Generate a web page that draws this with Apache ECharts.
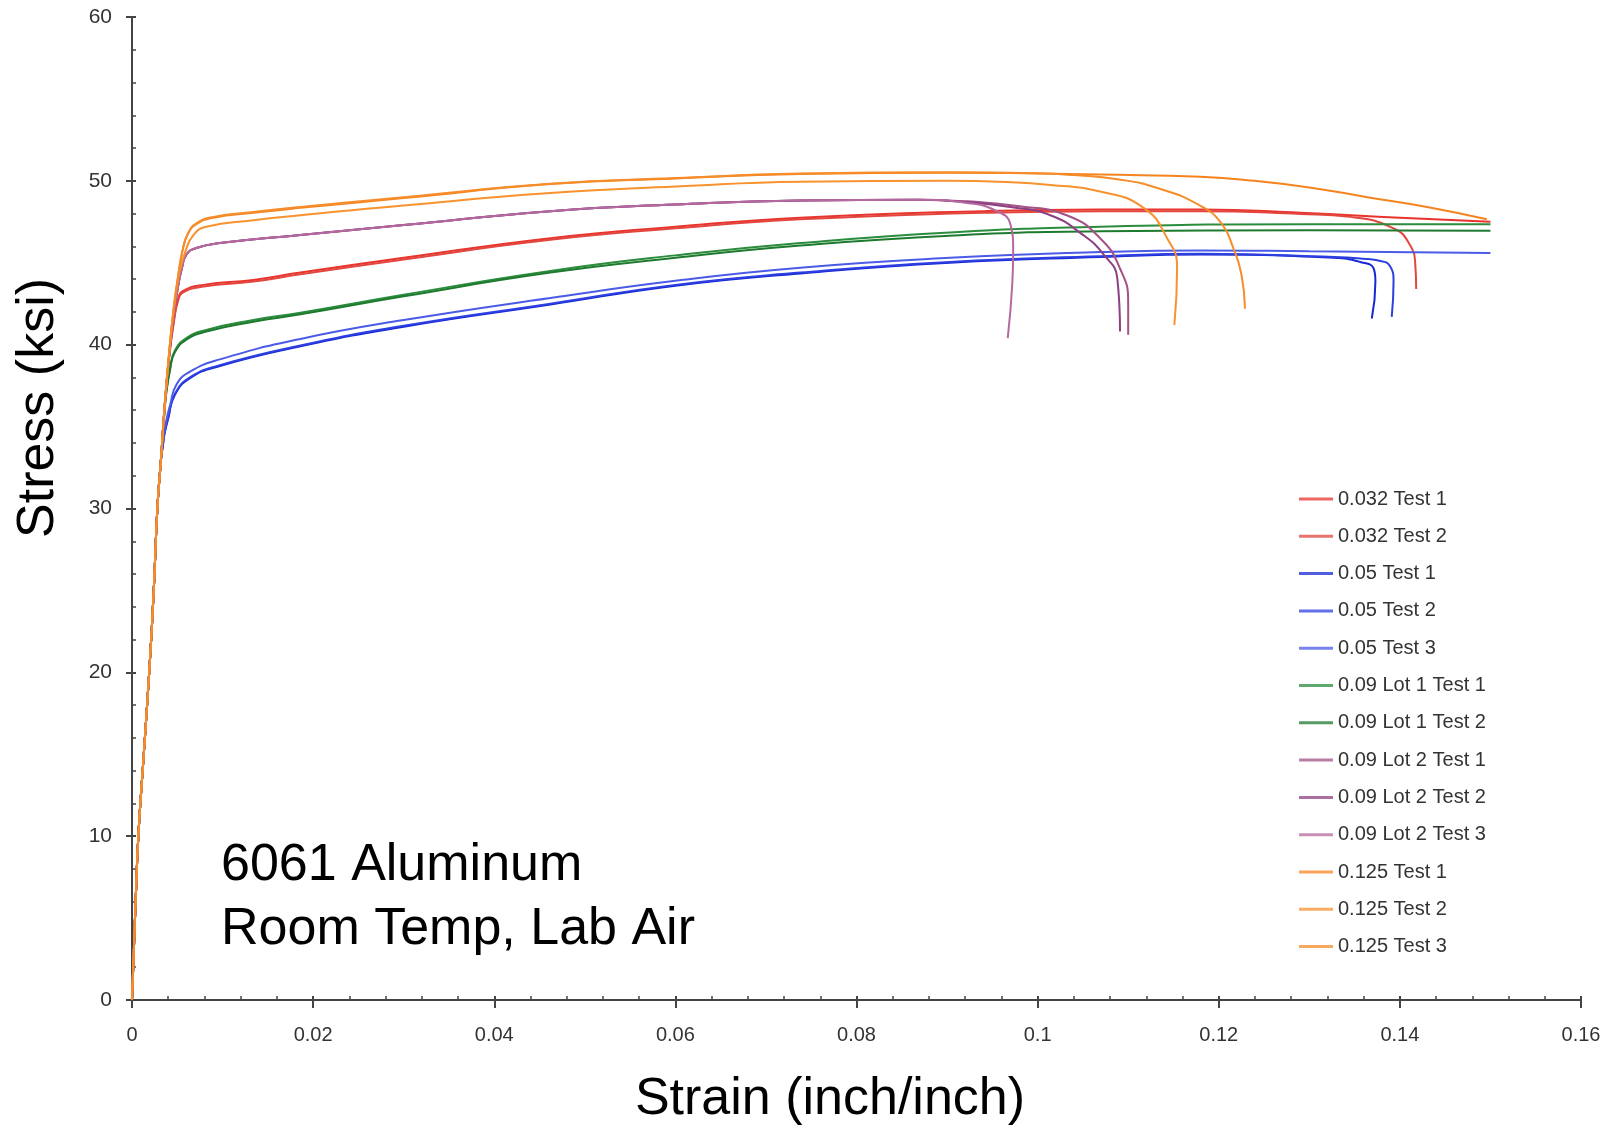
<!DOCTYPE html>
<html>
<head>
<meta charset="utf-8">
<title>6061 Aluminum stress-strain</title>
<script src="https://cdn.jsdelivr.net/npm/echarts@6/dist/echarts.min.js"></script>
<style>
html, body { margin: 0; padding: 0; background: #fff; }
#chart { width: 1613px; height: 1125px; }
</style>
</head>
<body>
<div id="chart"></div>
<script>
const font = '"Liberation Sans", Arial, Helvetica, sans-serif';

// points: [strain (in/in), stress (ksi)]
const elastic = [[0, 0], [0.0002, 3], [0.0004, 6], [0.0007, 10], [0.0013, 15], [0.0019, 20], [0.0024, 25], [0.0028, 30], [0.0032, 33]];

const red032_1 = elastic.concat([[0.0036, 36.2], [0.0041, 39.3], [0.0046, 41.4], [0.0051, 42.8], [0.0057, 43.3], [0.0079, 43.65], [0.0134, 43.95], [0.0186, 44.4], [0.03, 45.3], [0.0462, 46.5], [0.06, 47.2], [0.0738, 47.75], [0.094, 48.15], [0.1069, 48.25], [0.118, 48.25], [0.129, 48.05], [0.14, 47.75], [0.15, 47.5]]);
const red032_2 = elastic.concat([[0.0036, 36.2], [0.0041, 39.2], [0.0046, 41.3], [0.0051, 42.7], [0.0057, 43.2], [0.0079, 43.55], [0.0134, 43.85], [0.0186, 44.3], [0.03, 45.2], [0.0462, 46.4], [0.06, 47.1], [0.0738, 47.65], [0.094, 48.05], [0.1069, 48.15], [0.118, 48.15], [0.129, 47.98], [0.1345, 47.8], [0.1393, 47.1], [0.1411, 46.1], [0.1417, 44.9], [0.1418, 43.4]]);

const blue05_1 = elastic.concat([[0.0034, 33.8], [0.0036, 34.6], [0.004, 35.5], [0.0047, 36.9], [0.0064, 37.95], [0.0097, 38.7], [0.0186, 39.9], [0.03, 41.1], [0.0462, 42.45], [0.06, 43.6], [0.0738, 44.35], [0.0903, 45.0], [0.1069, 45.35], [0.118, 45.5], [0.1327, 45.3], [0.1356, 45.05], [0.1371, 44.65], [0.1373, 43.85], [0.1369, 41.6]]);
const blue05_2 = elastic.concat([[0.0034, 33.8], [0.0036, 34.6], [0.004, 35.55], [0.0047, 36.95], [0.0064, 38.0], [0.0097, 38.75], [0.0186, 39.95], [0.03, 41.15], [0.0462, 42.5], [0.06, 43.65], [0.0738, 44.4], [0.0903, 45.05], [0.1069, 45.4], [0.118, 45.55], [0.1327, 45.35], [0.136, 45.25], [0.1375, 45.15], [0.1389, 44.8], [0.1393, 43.85], [0.1391, 41.7]]);
const blue05_3 = elastic.concat([[0.0034, 34.0], [0.0038, 35.4], [0.0042, 36.3], [0.0049, 37.55], [0.0064, 38.35], [0.0097, 39.1], [0.0186, 40.35], [0.03, 41.5], [0.0462, 42.85], [0.06, 43.9], [0.0738, 44.7], [0.0903, 45.3], [0.1069, 45.65], [0.118, 45.75], [0.13, 45.7], [0.15, 45.6]]);

const green09L1_1 = elastic.concat([[0.0036, 36.0], [0.0038, 37.2], [0.0042, 38.55], [0.0047, 39.6], [0.006, 40.4], [0.0082, 40.9], [0.0134, 41.5], [0.0186, 41.95], [0.03, 43.05], [0.0462, 44.5], [0.06, 45.45], [0.0738, 46.2], [0.0903, 46.85], [0.1069, 47.2], [0.13, 47.35], [0.15, 47.35]]);
const green09L1_2 = elastic.concat([[0.0036, 36.0], [0.0038, 37.1], [0.0042, 38.45], [0.0047, 39.5], [0.006, 40.3], [0.0082, 40.8], [0.0134, 41.4], [0.0186, 41.85], [0.03, 42.95], [0.0462, 44.4], [0.06, 45.3], [0.0738, 46.05], [0.0903, 46.65], [0.1069, 46.92], [0.13, 46.98], [0.15, 46.95]]);

const purple09L2_1 = elastic.concat([[0.0036, 36.2], [0.0041, 39.3], [0.0046, 41.8], [0.0051, 43.6], [0.0055, 44.65], [0.006, 45.5], [0.0071, 45.9], [0.0097, 46.2], [0.0186, 46.7], [0.03, 47.3], [0.0462, 48.15], [0.06, 48.55], [0.0738, 48.8], [0.0867, 48.85], [0.0922, 48.75], [0.098, 48.45], [0.1032, 47.9], [0.1069, 46.5], [0.1091, 44.65], [0.11, 42.6], [0.11, 40.6]]);
const purple09L2_2 = elastic.concat([[0.0036, 36.2], [0.0041, 39.3], [0.0046, 41.8], [0.0051, 43.6], [0.0055, 44.65], [0.006, 45.5], [0.0071, 45.9], [0.0097, 46.2], [0.0186, 46.7], [0.03, 47.3], [0.0462, 48.15], [0.06, 48.55], [0.0738, 48.8], [0.0867, 48.85], [0.0922, 48.7], [0.097, 48.4], [0.1014, 47.9], [0.105, 46.7], [0.1073, 45.5], [0.1088, 44.05], [0.1091, 40.8]]);
const purple09L2_3 = elastic.concat([[0.0036, 36.2], [0.0041, 39.3], [0.0046, 41.8], [0.0051, 43.6], [0.0055, 44.65], [0.006, 45.5], [0.0071, 45.9], [0.0097, 46.2], [0.0186, 46.7], [0.03, 47.3], [0.0462, 48.15], [0.06, 48.55], [0.0738, 48.8], [0.0867, 48.85], [0.0922, 48.65], [0.0955, 48.15], [0.097, 47.35], [0.0973, 45.7], [0.0972, 43.7], [0.0967, 40.4]]);

const orange125_1 = elastic.concat([[0.0036, 36.2], [0.0041, 39.5], [0.0046, 42.2], [0.0051, 44.2], [0.0056, 45.8], [0.0062, 46.8], [0.0071, 47.35], [0.009, 47.75], [0.0134, 48.05], [0.0186, 48.35], [0.03, 48.95], [0.0462, 49.8], [0.06, 50.15], [0.0738, 50.42], [0.0903, 50.5], [0.1, 50.45], [0.1069, 50.38], [0.118, 50.25], [0.124, 50.0], [0.13, 49.6], [0.1364, 49.0], [0.143, 48.4], [0.1496, 47.65]]);
const orange125_2 = elastic.concat([[0.0036, 36.2], [0.0041, 39.5], [0.0046, 42.1], [0.0052, 44.3], [0.0059, 45.7], [0.0068, 46.7], [0.0082, 47.2], [0.0134, 47.6], [0.0186, 47.9], [0.03, 48.5], [0.0462, 49.25], [0.06, 49.65], [0.0738, 49.95], [0.09, 50.0], [0.0965, 49.93], [0.1014, 49.75], [0.1069, 49.35], [0.1117, 48.35], [0.1143, 46.5], [0.1154, 44.7], [0.1151, 41.2]]);
const orange125_3 = elastic.concat([[0.0036, 36.2], [0.0041, 39.5], [0.0046, 42.2], [0.0051, 44.2], [0.0056, 45.8], [0.0062, 46.8], [0.0071, 47.4], [0.009, 47.8], [0.0134, 48.1], [0.0186, 48.4], [0.03, 49.0], [0.0462, 49.82], [0.06, 50.17], [0.0738, 50.44], [0.0903, 50.52], [0.1, 50.46], [0.104, 50.35], [0.1088, 50.1], [0.1133, 49.55], [0.1179, 48.5], [0.1203, 47.4], [0.1216, 45.9], [0.1225, 44.3], [0.1229, 42.2]]);

const seriesNames = ['0.032 Test 1', '0.032 Test 2', '0.05 Test 1', '0.05 Test 2', '0.05 Test 3', '0.09 Lot 1 Test 1', '0.09 Lot 1 Test 2', '0.09 Lot 2 Test 1', '0.09 Lot 2 Test 2', '0.09 Lot 2 Test 3', '0.125 Test 1', '0.125 Test 2', '0.125 Test 3'];
const seriesColors = ['#e8342c', '#e2463e', '#1428d4', '#2d3fe0', '#4b5be6', '#2a8c3c', '#1e7a2f', '#a25286', '#8c3f82', '#b46a9e', '#f5841f', '#f7922e', '#f68c2a'];
const seriesData = [red032_1, red032_2, blue05_1, blue05_2, blue05_3, green09L1_1, green09L1_2, purple09L2_1, purple09L2_2, purple09L2_3, orange125_1, orange125_2, orange125_3];

const axisColor = '#444';

const chart = echarts.init(document.getElementById('chart'));

const option = {
  backgroundColor: '#fff',
  animation: false,
  grid: { left: 132, right: 32, top: 17, bottom: 125 },
  legend: {
    orient: 'vertical',
    left: 1294,
    top: 484,
    icon: 'rect',
    itemWidth: 34,
    itemHeight: 3,
    itemGap: 17.3,
    itemStyle: { opacity: 0.75 },
    textStyle: { fontFamily: font, fontSize: 20, lineHeight: 20, color: '#333' },
    data: seriesNames
  },
  xAxis: [
    {
      type: 'value', min: 0, max: 0.16, interval: 0.02,
      axisLine: { show: true, onZero: false, lineStyle: { color: axisColor, width: 2 } },
      axisTick: { show: true, inside: false, length: 8, lineStyle: { color: axisColor, width: 2 } },
      axisLabel: { margin: 25, fontFamily: font, fontSize: 20, color: '#333' },
      splitLine: { show: false }
    },
    {
      type: 'value', min: 0, max: 0.16, interval: 0.02, position: 'bottom',
      axisLine: { show: false },
      axisTick: { show: true, inside: true, length: 4, lineStyle: { color: axisColor, width: 2 } },
      minorTick: { show: true, splitNumber: 5, length: 4, lineStyle: { color: axisColor, width: 1.5 } },
      axisLabel: { show: false },
      splitLine: { show: false }
    }
  ],
  yAxis: [
    {
      type: 'value', min: 0, max: 60, interval: 10,
      axisLine: { show: true, onZero: false, lineStyle: { color: axisColor, width: 2 } },
      axisTick: { show: true, inside: false, length: 6, lineStyle: { color: axisColor, width: 2 } },
      axisLabel: { margin: 20, fontFamily: font, fontSize: 21, color: '#333' },
      splitLine: { show: false }
    },
    {
      type: 'value', min: 0, max: 60, interval: 10, position: 'left',
      axisLine: { show: false },
      axisTick: { show: true, inside: true, length: 4, lineStyle: { color: axisColor, width: 2 } },
      minorTick: { show: true, splitNumber: 5, length: 4, lineStyle: { color: axisColor, width: 1.5 } },
      axisLabel: { show: false },
      splitLine: { show: false }
    }
  ],
  graphic: [
    { type: 'text', x: 39, y: 408, rotation: Math.PI / 2,
      style: { text: 'Stress (ksi)', fontFamily: font, fontSize: 52, fill: '#000', align: 'center', verticalAlign: 'middle' } },
    { type: 'text', x: 830, y: 1100,
      style: { text: 'Strain (inch/inch)', fontFamily: font, fontSize: 52, fill: '#000', align: 'center', verticalAlign: 'middle' } },
    { type: 'text', x: 221, y: 866,
      style: { text: '6061 Aluminum', fontFamily: font, fontSize: 52, fill: '#000', align: 'left', verticalAlign: 'middle' } },
    { type: 'text', x: 221, y: 930,
      style: { text: 'Room Temp, Lab Air', fontFamily: font, fontSize: 52, fill: '#000', align: 'left', verticalAlign: 'middle' } }
  ],
  series: seriesNames.map((name, i) => ({
    name: name,
    type: 'line',
    xAxisIndex: 0,
    yAxisIndex: 0,
    data: seriesData[i],
    showSymbol: false,
    smooth: 0.5,
    color: seriesColors[i],
    lineStyle: { width: 2, color: seriesColors[i] }
  }))
};

chart.setOption(option);
</script>
</body>
</html>
